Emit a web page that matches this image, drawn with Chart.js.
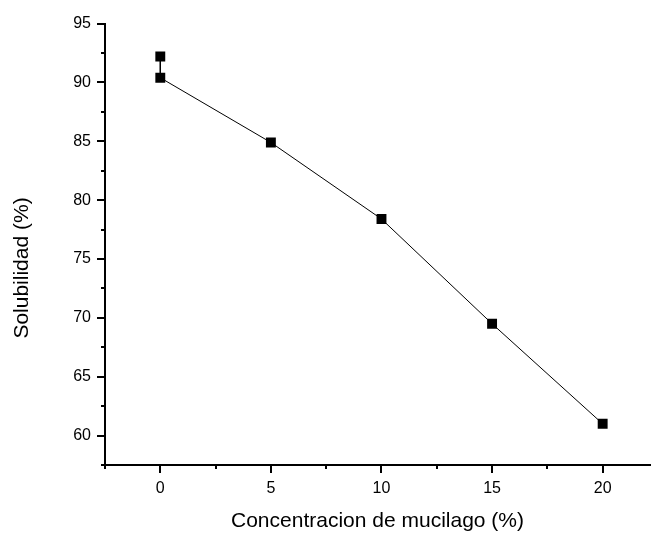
<!DOCTYPE html>
<html>
<head>
<meta charset="utf-8">
<script src="https://cdn.jsdelivr.net/npm/chart.js@4.4.0/dist/chart.umd.min.js"></script>
<style>
  body { margin: 0; background: #fff; }
  #wrap { width: 657px; height: 535px; }
</style>
</head>
<body>
<div id="wrap"><canvas id="myChart" width="657" height="535"></canvas></div>
<script>
// data
var concentracion = [0, 0, 5, 10, 15, 20];
var solubilidad = [92.2, 90.4, 84.9, 78.4, 69.5, 61.0];
var xTickStep = 2.5;
var yTickStep = 2.5;
var xTitle = 'Concentracion de mucilago (%)';
var yTitle = 'Solubilidad (%)';

var points = concentracion.map(function(c, i) { return { x: c, y: solubilidad[i] }; });

// Origin-style outward tick marks, long on labelled ticks, short in between
var tickMarks = {
  id: 'tickMarks',
  afterDraw: function(chart) {
    var ctx = chart.ctx;
    ctx.save();
    ctx.strokeStyle = '#000';
    ctx.lineWidth = 2;
    ['x', 'y'].forEach(function(id) {
      var s = chart.scales[id];
      s.ticks.forEach(function(t) {
        var v = t.value;
        var k = v / 2.5;
        if (Math.abs(k - Math.round(k)) > 1e-6) return;
        var len = (Math.round(k) % 2 === 0) ? 8 : 4;
        var p = Math.round(s.getPixelForValue(v));
        ctx.beginPath();
        if (id === 'x') {
          ctx.moveTo(p, s.top);
          ctx.lineTo(p, s.top + len);
        } else {
          ctx.moveTo(s.right, p);
          ctx.lineTo(s.right - len, p);
        }
        ctx.stroke();
      });
    });
    // y axis title, sits a bit below the axis middle in the original
    ctx.translate(22, 268);
    ctx.rotate(-Math.PI / 2);
    ctx.fillStyle = '#000';
    ctx.font = '21px "Liberation Sans", Arial, sans-serif';
    ctx.textAlign = 'center';
    ctx.textBaseline = 'middle';
    ctx.fillText(yTitle, 0, 0);
    ctx.restore();
  }
};

Chart.defaults.font.family = '"Liberation Sans", Arial, sans-serif';
Chart.defaults.color = '#000';

var ctx = document.getElementById('myChart').getContext('2d');
var chart = new Chart(ctx, {
  type: 'scatter',
  data: {
    datasets: [{
      data: points,
      showLine: true,
      borderColor: '#000',
      borderWidth: 1,
      backgroundColor: '#000',
      pointStyle: 'rect',
      pointRadius: 7,
      pointHoverRadius: 7,
      pointBorderWidth: 0
    }]
  },
  options: {
    responsive: false,
    animation: false,
    layout: { padding: { top: 15, right: 0, bottom: 0, left: 0 } },
    plugins: { legend: { display: false }, tooltip: { enabled: false } },
    scales: {
      x: {
        type: 'linear',
        min: -2.5,
        max: 22.14,
        grid: { display: false, drawTicks: false },
        border: { display: true, color: '#000', width: 2 },
        ticks: {
          stepSize: xTickStep,
          includeBounds: false,
          autoSkip: false,
          maxRotation: 0,
          padding: 14,
          font: { size: 16 },
          callback: function(v) { return (v % 5 === 0) ? v : ''; }
        },
        title: {
          display: true,
          text: xTitle,
          font: { size: 21 },
          padding: { top: 0, bottom: 1 }
        },
        afterFit: function(s) { s.height = 70; }
      },
      y: {
        min: 57.5,
        max: 95,
        grid: { display: false, drawTicks: false },
        border: { display: true, color: '#000', width: 2 },
        ticks: {
          stepSize: yTickStep,
          includeBounds: false,
          autoSkip: false,
          padding: 14,
          font: { size: 16 },
          callback: function(v) { return (v % 5 === 0) ? v : ''; }
        },
        title: { display: false },
        afterFit: function(s) { s.width = 105; }
      }
    }
  },
  plugins: [tickMarks]
});
</script>
</body>
</html>
